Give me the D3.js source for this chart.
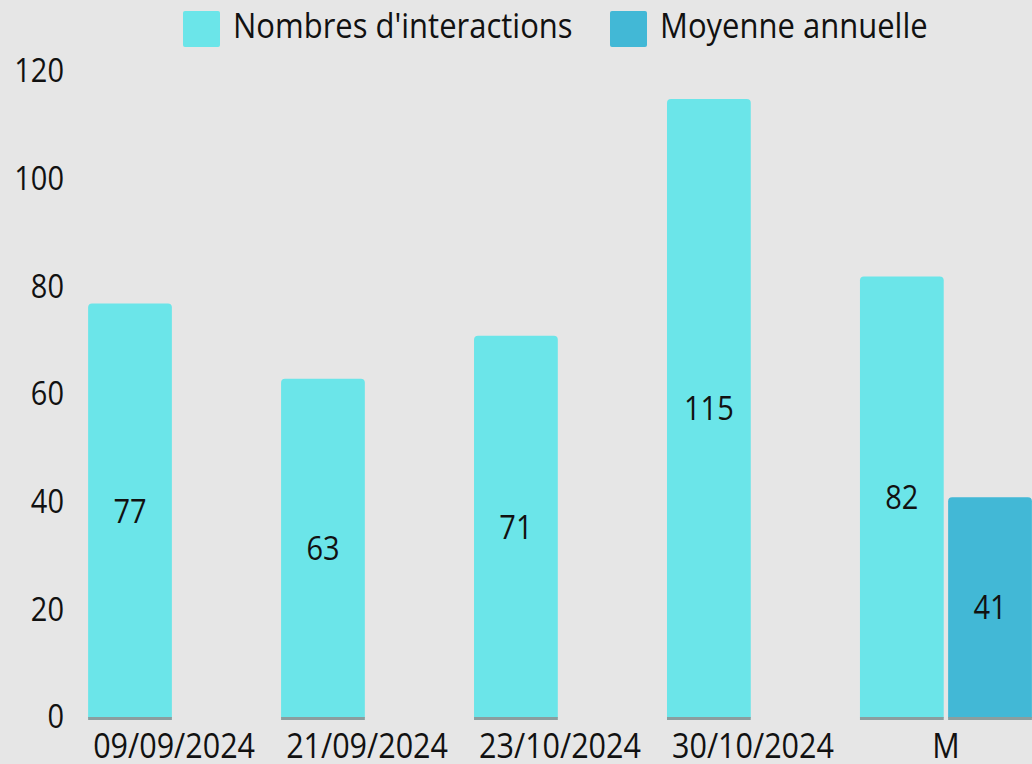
<!DOCTYPE html>
<html>
<head>
<meta charset="utf-8">
<title>Nombres d'interactions</title>
<style>
  html, body { margin: 0; padding: 0; background: #e6e6e6; overflow: hidden; }
  svg { display: block; font-family: "Open Sans", "Noto Sans", sans-serif; }
</style>
</head>
<body>
<div id="chart"></div>
<script src="https://cdn.jsdelivr.net/npm/d3@7"></script>
<script>
  var categories = ['09/09/2024', '21/09/2024', '23/10/2024', '30/10/2024', 'M'];
  var seriesNames = ["Nombres d'interactions", 'Moyenne annuelle'];
  var interactions = [77, 63, 71, 115, 82];
  var moyenne = [null, null, null, null, 41];
  var yTicks = [0, 20, 40, 60, 80, 100, 120];

  var width = 1032, height = 764;
  var colors = ['#6be5e9', '#42b8d6'];
  var stretch = 'scale(1,1.16)'; // text in the original is a bit tall

  var svg = d3.select('#chart').append('svg')
    .attr('width', width).attr('height', height);

  svg.append('rect').attr('width', width).attr('height', height).attr('fill', '#e6e6e6');

  var x = d3.scaleBand().domain(categories).range([77.5, 1042.5]).paddingInner(0.109).paddingOuter(0.055);
  var x1 = d3.scaleBand().domain(seriesNames).range([0, x.bandwidth()]).paddingInner(0.05);
  var y = d3.scaleLinear().domain([0, 120]).range([718, 72]);

  // y axis labels
  var yAxis = svg.append('g').attr('transform', 'translate(64,0)')
    .call(d3.axisLeft(y).tickValues(yTicks).tickSize(0).tickPadding(0));
  yAxis.select('.domain').remove();
  yAxis.selectAll('text').attr('font-size', 29).attr('fill', '#111')
    .attr('font-family', '"Open Sans", sans-serif')
    .attr('dy', '0.3em')
    .attr('transform', 'scale(1,1.12)');

  var rows = categories.map(function(c, i) {
    return { cat: c, values: [interactions[i], moyenne[i]] };
  });

  var groups = svg.selectAll('.grp').data(rows).enter().append('g')
    .attr('class', 'grp')
    .attr('transform', function(d) { return 'translate(' + x(d.cat) + ',0)'; });

  var bars = groups.selectAll('.bar').data(function(d) {
    return d.values.map(function(v, j) { return { s: seriesNames[j], v: v, j: j }; })
      .filter(function(e) { return e.v != null; });
  }).enter().append('g').attr('class', 'bar');

  bars.append('path')
    .attr('fill', function(d) { return colors[d.j]; })
    .attr('d', function(d) {
      var x0 = x1(d.s), w = x1.bandwidth(), top = y(d.v), bot = y(0), r = 4;
      return 'M' + x0 + ',' + bot + 'V' + (top + r) +
        'Q' + x0 + ',' + top + ' ' + (x0 + r) + ',' + top +
        'H' + (x0 + w - r) + 'Q' + (x0 + w) + ',' + top + ' ' + (x0 + w) + ',' + (top + r) +
        'V' + bot + 'Z';
    });

  bars.append('rect')
    .attr('x', function(d) { return x1(d.s); })
    .attr('y', y(0) - 1)
    .attr('width', x1.bandwidth())
    .attr('height', 3)
    .attr('fill', '#8a9e9f');

  bars.append('text')
    .attr('transform', function(d) {
      var cx = x1(d.s) + x1.bandwidth() / 2, cy = (y(d.v) + y(0)) / 2;
      return 'translate(' + cx + ',' + cy + ') ' + stretch;
    })
    .attr('text-anchor', 'middle')
    .attr('dy', '0.35em')
    .attr('font-size', 29)
    .attr('fill', '#111')
    .text(function(d) { return d.v; });

  // x axis labels
  var xAxis = svg.append('g').attr('transform', 'translate(0,' + 733 + ')')
    .call(d3.axisBottom(x).tickSize(0).tickPadding(0));
  xAxis.select('.domain').remove();
  xAxis.selectAll('text').attr('font-size', 30.5).attr('fill', '#111')
    .attr('font-family', '"Open Sans", sans-serif').attr('dy', '0.72em')
    .attr('transform', stretch);

  // legend
  var legendPos = [183, 610];
  var legend = svg.selectAll('.legend').data(seriesNames).enter().append('g')
    .attr('class', 'legend')
    .attr('transform', function(d, i) { return 'translate(' + legendPos[i] + ',11)'; });
  legend.append('rect').attr('width', 37).attr('height', 36).attr('rx', 2)
    .attr('fill', function(d, i) { return colors[i]; });
  legend.append('text')
    .attr('transform', 'translate(50,15) scale(1,1.12)')
    .attr('dy', '0.35em')
    .attr('font-size', 31).attr('fill', '#111')
    .text(function(d) { return d; });
</script>
</body>
</html>
